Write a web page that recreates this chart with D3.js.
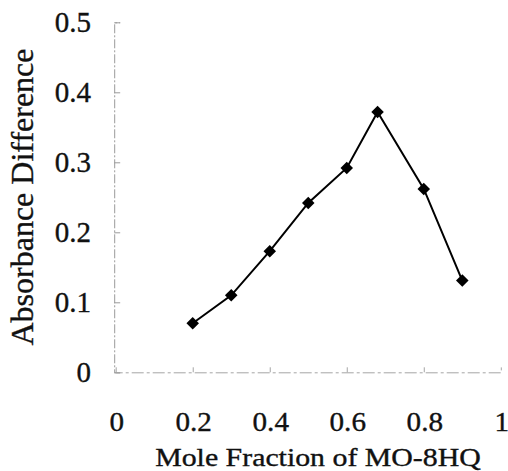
<!DOCTYPE html>
<html><head><meta charset="utf-8">
<script src="https://cdn.jsdelivr.net/npm/d3@7"></script>
<style>
body{margin:0;background:#fff;}
svg{display:block;}
</style></head>
<body>
<svg id="c" width="508" height="471"></svg>
<script>
const moleFraction = [0.2, 0.3, 0.4, 0.5, 0.6, 0.68, 0.8, 0.9];
const absorbanceDiff = [0.070, 0.110, 0.173, 0.242, 0.292, 0.372, 0.262, 0.131];
const xTicks = [0, 0.2, 0.4, 0.6, 0.8, 1];
const yTicks = [0, 0.1, 0.2, 0.3, 0.4, 0.5];
const xTitle = "Mole Fraction of MO-8HQ";
const yTitle = "Absorbance Difference";

const FONT = "'Liberation Serif', 'Times New Roman', serif";
const svg = d3.select("#c");
const x = d3.scaleLinear().domain([0, 1]).range([115.7, 500.8]);
const y = d3.scaleLinear().domain([0, 0.5]).range([372.3, 22.3]);

// axes (faint gray, as in the scan)
const yAx = svg.append("g").attr("transform", `translate(${x(0) - 1.5},0)`)
  .call(d3.axisRight(y).tickValues(yTicks).tickSize(6).tickFormat(""));
yAx.selectAll("line,path").attr("stroke", "#9a9a9a").attr("stroke-width", 1);
yAx.select(".domain").attr("stroke-dasharray", "9,2,2,2");

const xAx = svg.append("g").attr("transform", `translate(0,${y(0)})`)
  .call(d3.axisTop(x).tickValues(xTicks.slice(1, -1)).tickSize(5).tickFormat(""));
xAx.selectAll("line,path").attr("stroke", "#a5a5a5").attr("stroke-width", 1);
xAx.select(".domain").attr("stroke-dasharray", "12,3,3,3");

function styleText(sel, size) {
  sel.style("font-family", FONT).style("font-size", size + "px")
     .style("fill", "#111").style("stroke", "#111").style("stroke-width", "0.35px");
}

// tick labels
svg.append("g").selectAll("text").data(yTicks).join("text")
  .attr("x", 91).attr("y", d => y(d))
  .attr("dy", "0.35em").attr("text-anchor", "end")
  .call(styleText, 29)
  .text(d => d === 0 ? "0" : d3.format(".1f")(d));

svg.append("g").selectAll("text").data(xTicks).join("text")
  .attr("transform", d => `translate(${x(d) + 1},431) scale(1.1,1)`)
  .attr("text-anchor", "middle")
  .call(styleText, 26.5)
  .text(d => (d === 0 || d === 1) ? String(d) : d3.format(".1f")(d));

// axis titles
svg.append("text")
  .attr("transform", "translate(318,466) scale(1.17,1)")
  .attr("text-anchor", "middle")
  .call(styleText, 25.5)
  .text(xTitle);

svg.append("text")
  .attr("transform", "translate(33,197) rotate(-90)")
  .attr("text-anchor", "middle")
  .call(styleText, 32)
  .text(yTitle);

// line
const pts = moleFraction.map((m, i) => [m, absorbanceDiff[i]]);
svg.append("path").datum(pts)
  .attr("fill", "none").attr("stroke", "#000").attr("stroke-width", 2)
  .attr("d", d3.line().x(d => x(d[0])).y(d => y(d[1])));

// diamond markers
svg.append("g").selectAll("path").data(pts).join("path")
  .attr("transform", d => `translate(${x(d[0])},${y(d[1])})`)
  .attr("d", d3.symbol().type(d3.symbolDiamond2).size(100))
  .attr("fill", "#000");
</script>
</body></html>
